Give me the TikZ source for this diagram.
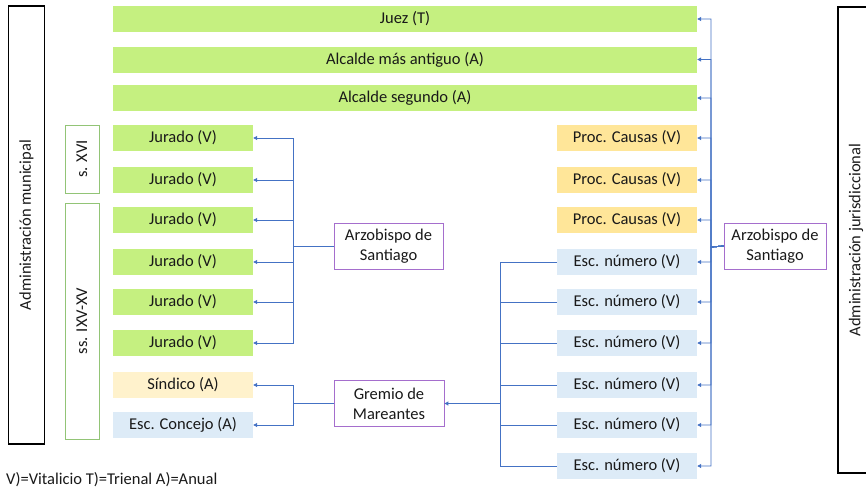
\documentclass[tikz,border=0pt]{standalone}
\usepackage{fontspec}
\setmainfont{Carlito}
\usepackage{tikz}
\usetikzlibrary{arrows.meta}

\definecolor{verde}{RGB}{197,240,128}
\definecolor{oro}{RGB}{255,230,153}
\definecolor{crema}{RGB}{255,242,204}
\definecolor{celeste}{RGB}{221,235,247}
\definecolor{morado}{RGB}{165,110,205}
\definecolor{verdeg}{RGB}{146,196,118}
\definecolor{azul}{RGB}{68,114,196}

\begin{document}
\begin{tikzpicture}[x=1pt,y=-1pt,
  every node/.style={font=\fontsize{16.5}{20}\selectfont,inner sep=0pt,text=black!90},
  barra/.style={fill=verde,minimum width=584pt,minimum height=26pt},
  cargo/.style={minimum width=140pt,minimum height=26pt},
  elector/.style={draw=morado,thick,fill=white,align=center,minimum height=46pt},
  periodo/.style={draw=verdeg,thick,rotate=90,minimum height=34pt},
  admin/.style={draw=black,line width=1.5pt,rotate=90,minimum height=36pt},
  linea/.style={draw=azul,line width=0.9pt},
  flecha/.style={linea,-{Triangle[length=4pt,width=4pt]}}]

\clip (0,0) rectangle (866,491);

\node[admin,minimum width=438pt] (muni) at (26.5,225){Administración municipal};
\node[admin,minimum width=466pt] (juris) at (856,240){Administración jurisdiccional};

\node[periodo,minimum width=68pt] (xvi) at (82,159){s. XVI};
\node[periodo,minimum width=236pt] (ixv) at (82,321){ss. IXV-XV};

\node[barra] (juez) at (405,19){Juez (T)};
\node[barra] (alc1) at (405,59.5){Alcalde más antiguo (A)};
\node[barra] (alc2) at (405,98){Alcalde segundo (A)};

\node[cargo,fill=verde] (jur1) at (183,138){Jurado (V)};
\node[cargo,fill=verde] (jur2) at (183,180){Jurado (V)};
\node[cargo,fill=verde] (jur3) at (183,220){Jurado (V)};
\node[cargo,fill=verde] (jur4) at (183,262){Jurado (V)};
\node[cargo,fill=verde] (jur5) at (183,302){Jurado (V)};
\node[cargo,fill=verde] (jur6) at (183,343){Jurado (V)};
\node[cargo,fill=crema] (sind) at (183,385){Síndico (A)};
\node[cargo,fill=celeste] (escc) at (183,425){Esc. Concejo (A)};

\node[cargo,fill=oro] (proc1) at (627,138){Proc. Causas (V)};
\node[cargo,fill=oro] (proc2) at (627,180){Proc. Causas (V)};
\node[cargo,fill=oro] (proc3) at (627,220){Proc. Causas (V)};
\node[cargo,fill=celeste] (esc1) at (627,262){Esc. número (V)};
\node[cargo,fill=celeste] (esc2) at (627,302){Esc. número (V)};
\node[cargo,fill=celeste] (esc3) at (627,343){Esc. número (V)};
\node[cargo,fill=celeste] (esc4) at (627,385){Esc. número (V)};
\node[cargo,fill=celeste] (esc5) at (627,425){Esc. número (V)};
\node[cargo,fill=celeste] (esc6) at (627,466){Esc. número (V)};

\node[elector,minimum width=109pt] (arzl) at (388.5,246){Arzobispo de\\Santiago};
\node[elector,minimum width=110pt] (grem) at (389,403.5){Gremio de\\Mareantes};
\node[elector,minimum width=102pt] (arzr) at (775,246){Arzobispo de\\Santiago};

\node[anchor=west] (ley) at (6,480){V)=Vitalicio T)=Trienal A)=Anual};

\coordinate (busl) at (293,246);
\coordinate (busg) at (293,403.5);
\coordinate (busm) at (500,403.5);
\coordinate (busr) at (711,247);

\foreach \c in {jur1,jur2,jur3,jur4,jur5,jur6}
  \draw[flecha] (arzl.west) -- (busl) |- (\c.east);
\foreach \c in {sind,escc}
  \draw[flecha] (grem.west) -- (busg) |- (\c.east);
\foreach \c in {esc1,esc2,esc3,esc4,esc5,esc6}
  \draw[linea] (\c.west) -| (busm);
\draw[flecha] (busm) -- (grem.east);
\foreach \c in {juez,alc1,alc2,proc1,proc2,proc3,esc1,esc2,esc3,esc4,esc5,esc6}
  \draw[flecha] (arzr.west) -- (busr) |- (\c.east);

\end{tikzpicture}
\end{document}
